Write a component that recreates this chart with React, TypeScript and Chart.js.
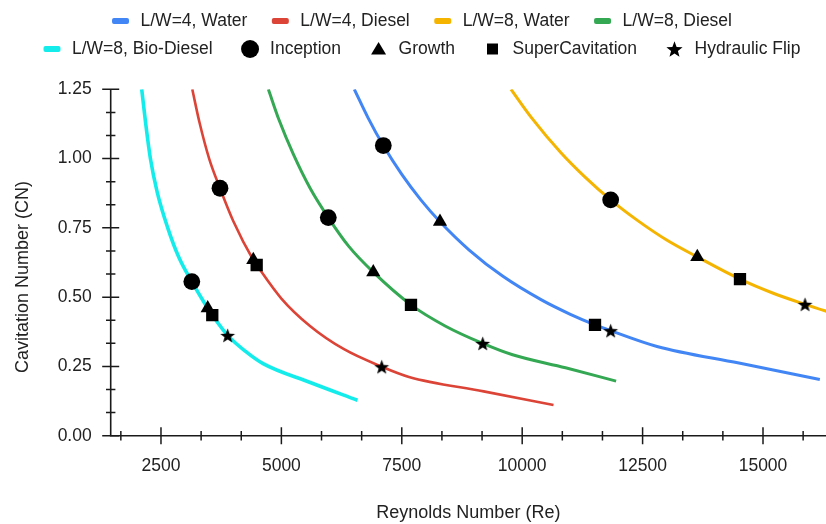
import React, { useEffect, useRef } from 'react';
import { Chart, registerables } from 'chart.js';

Chart.register(...registerables);

const FONT = '"Liberation Sans", Arial, Helvetica, sans-serif';
const TEXT_COLOR = '#222222';
const AXIS_COLOR = '#1a1a1a';

// ---------- series (Reynolds number / cavitation number) ----------
const seriesLabels = ['L/W=4, Water', 'L/W=4, Diesel', 'L/W=8, Water', 'L/W=8, Diesel', 'L/W=8, Bio-Diesel'];
const seriesColors = ['#4285F4', '#DB4437', '#F4B400', '#34A853', '#14ECEC'];
const seriesWidths = [3, 2.6, 3, 3, 3.6];

const lw4WaterRe = [6514, 6800, 7116, 7500, 7900, 8293, 8900, 9600, 10400, 11000, 11512, 11837, 12800, 14500, 16180];
const lw4WaterCN = [1.25, 1.147, 1.047, 0.943, 0.85, 0.772, 0.67, 0.575, 0.49, 0.438, 0.4, 0.379, 0.322, 0.262, 0.203];

const lw4DieselRe = [3150, 3300, 3500, 3725, 4000, 4417, 4487, 5000, 5600, 6300, 7083, 7650, 9200, 10650];
const lw4DieselCN = [1.25, 1.13, 1.0, 0.893, 0.775, 0.634, 0.616, 0.495, 0.395, 0.312, 0.249, 0.212, 0.16, 0.111];

const lw8WaterRe = [9767, 10200, 10800, 11300, 11837, 12400, 13000, 13636, 14522, 15200, 15872, 16600];
const lw8WaterCN = [1.25, 1.146, 1.022, 0.934, 0.851, 0.776, 0.706, 0.645, 0.565, 0.515, 0.474, 0.433];

const lw8DieselRe = [4730, 4950, 5250, 5600, 5974, 6400, 6908, 7691, 8400, 9180, 9800, 10900, 11950];
const lw8DieselCN = [1.25, 1.14, 1.015, 0.892, 0.787, 0.683, 0.59, 0.472, 0.396, 0.333, 0.292, 0.245, 0.197];

const lw8BioRe = [2100, 2180, 2280, 2420, 2640, 2880, 3140, 3470, 3565, 3885, 4250, 4620, 5600, 6580];
const lw8BioCN = [1.25, 1.13, 1.0, 0.88, 0.75, 0.64, 0.556, 0.46, 0.435, 0.362, 0.305, 0.26, 0.192, 0.128];

const seriesRe = [lw4WaterRe, lw4DieselRe, lw8WaterRe, lw8DieselRe, lw8BioRe];
const seriesCN = [lw4WaterCN, lw4DieselCN, lw8WaterCN, lw8DieselCN, lw8BioCN];

// ---------- regime markers ----------
const markerLabels = ['Inception', 'Growth', 'SuperCavitation', 'Hydraulic Flip'];

const inceptionRe = [7116, 3725, 11837, 5974, 3140];
const inceptionCN = [1.047, 0.893, 0.851, 0.787, 0.556];

const growthRe = [8293, 4417, 13636, 6908, 3470];
const growthCN = [0.772, 0.634, 0.645, 0.59, 0.46];

const superCavRe = [11512, 4487, 14522, 7691, 3565];
const superCavCN = [0.4, 0.616, 0.565, 0.472, 0.435];

const flipRe = [11837, 7083, 15872, 9180, 3885];
const flipCN = [0.379, 0.249, 0.474, 0.333, 0.362];

const markerRe = [inceptionRe, growthRe, superCavRe, flipRe];
const markerCN = [inceptionCN, growthCN, superCavCN, flipCN];

// ---------- axes ----------
const reMin = 1456;
const reMax = 16308;
const xTickValues = [2500, 5000, 7500, 10000, 12500, 15000];
const cnMin = 0;
const cnMax = 1.25;
const yTickValues = [0, 0.25, 0.5, 0.75, 1.0, 1.25];
const xTitle = 'Reynolds Number (Re)';
const yTitle = 'Cavitation Number (CN)';

function starPath(ctx: CanvasRenderingContext2D, cx: number, cy: number, ro: number, ri: number) {
  ctx.beginPath();
  for (let i = 0; i < 10; i++) {
    const r = i % 2 === 0 ? ro : ri;
    const a = -Math.PI / 2 + (i * Math.PI) / 5;
    const px = cx + r * Math.cos(a);
    const py = cy + r * Math.sin(a);
    if (i === 0) ctx.moveTo(px, py);
    else ctx.lineTo(px, py);
  }
  ctx.closePath();
}

function makeStarCanvas(size: number, ro: number) {
  const c = document.createElement('canvas');
  c.width = size;
  c.height = size;
  const g = c.getContext('2d')!;
  g.fillStyle = '#000';
  starPath(g, size / 2, size / 2 + 0.8, ro, ro * 0.42);
  g.fill();
  return c;
}

function drawLegendIcon(ctx: CanvasRenderingContext2D, kind: string, color: string, cx: number, cy: number) {
  ctx.fillStyle = color;
  ctx.beginPath();
  if (kind === 'line') {
    const w = 17, h = 6, r = 2;
    const x = cx - w / 2, y = cy - h / 2;
    ctx.moveTo(x + r, y);
    ctx.arcTo(x + w, y, x + w, y + h, r);
    ctx.arcTo(x + w, y + h, x, y + h, r);
    ctx.arcTo(x, y + h, x, y, r);
    ctx.arcTo(x, y, x + w, y, r);
    ctx.closePath();
  } else if (kind === 'circle') {
    ctx.arc(cx, cy, 9, 0, Math.PI * 2);
  } else if (kind === 'triangle') {
    ctx.moveTo(cx, cy - 7);
    ctx.lineTo(cx + 7.5, cy + 5.5);
    ctx.lineTo(cx - 7.5, cy + 5.5);
    ctx.closePath();
  } else if (kind === 'rect') {
    ctx.rect(cx - 5.5, cy - 5.5, 11, 11);
  } else if (kind === 'star') {
    starPath(ctx, cx, cy + 0.8, 8.5, 3.6);
  }
  ctx.fill();
}

const markerKinds = ['circle', 'triangle', 'rect', 'star'];

const overlayPlugin = {
  id: 'overlay',
  afterDraw(chart: any) {
    const ctx: CanvasRenderingContext2D = chart.ctx;
    const xs = chart.scales.x;
    const ys = chart.scales.y;
    const { left, right, top, bottom } = chart.chartArea;
    ctx.save();

    // axis lines
    ctx.strokeStyle = AXIS_COLOR;
    ctx.lineWidth = 1.6;
    ctx.beginPath();
    ctx.moveTo(left, top);
    ctx.lineTo(left, bottom);
    ctx.lineTo(right + 2, bottom);
    ctx.stroke();

    // x ticks (major + 2 minor per interval)
    const xStep = xTickValues[1] - xTickValues[0];
    const xMinor = xStep / 3;
    ctx.lineWidth = 1.5;
    ctx.beginPath();
    for (let k = Math.ceil(reMin / xMinor); k * xMinor <= reMax; k++) {
      const px = xs.getPixelForValue(k * xMinor);
      const len = k % 3 === 0 ? 8.5 : 4.7;
      ctx.moveTo(px, bottom - len);
      ctx.lineTo(px, bottom + len);
    }
    // y ticks
    const yStep = yTickValues[1] - yTickValues[0];
    const yMinor = yStep / 3;
    for (let k = 0; k * yMinor <= cnMax + 1e-9; k++) {
      const py = ys.getPixelForValue(k * yMinor);
      const len = k % 3 === 0 ? 8.5 : 4.7;
      ctx.moveTo(left - len, py);
      ctx.lineTo(left + len, py);
    }
    ctx.stroke();

    // y title
    ctx.fillStyle = TEXT_COLOR;
    ctx.font = `18px ${FONT}`;
    ctx.textAlign = 'center';
    ctx.textBaseline = 'middle';
    ctx.translate(23, 277);
    ctx.rotate(-Math.PI / 2);
    ctx.fillText(yTitle, 0, 0);
    ctx.restore();

    // legend
    ctx.save();
    ctx.font = `17.5px ${FONT}`;
    ctx.textAlign = 'left';
    ctx.textBaseline = 'middle';
    const items = [
      ...seriesLabels.map((t, i) => ({ text: t, kind: 'line', color: seriesColors[i] })),
      ...markerLabels.map((t, i) => ({ text: t, kind: markerKinds[i], color: '#000' })),
    ];
    const rows = [
      { items: items.slice(0, 4), y: 21, gap: 33 },
      { items: items.slice(4), y: 49, gap: 37.5 },
    ];
    const centerX = 422;
    rows.forEach((row) => {
      const widths = row.items.map((it) => ctx.measureText(it.text).width);
      let total = 8.5;
      widths.forEach((w, i) => {
        total += 20 + w;
        if (i < widths.length - 1) total += row.gap;
      });
      let c = centerX - total / 2 + 8.5;
      row.items.forEach((it, i) => {
        drawLegendIcon(ctx, it.kind, it.color, c, row.y);
        ctx.fillStyle = TEXT_COLOR;
        ctx.fillText(it.text, c + 20, row.y);
        c += 20 + widths[i] + row.gap;
      });
    });
    ctx.restore();
  },
};

export default function App() {
  const canvasRef = useRef<HTMLCanvasElement | null>(null);

  useEffect(() => {
    if (!canvasRef.current) return;
    const star = makeStarCanvas(17, 7.8);

    const lineSets = seriesLabels.map((label, i) => ({
      type: 'line' as const,
      label,
      data: seriesRe[i].map((x, j) => ({ x, y: seriesCN[i][j] })),
      borderColor: seriesColors[i],
      backgroundColor: seriesColors[i],
      borderWidth: seriesWidths[i],
      pointRadius: 0,
      fill: false,
      cubicInterpolationMode: 'monotone' as const,
      order: 2,
    }));

    const styles: any[] = ['circle', 'triangle', 'rect', star];
    const radii = [8.4, 8.2, 8.7, 8];
    const markerSets = markerLabels.map((label, i) => ({
      type: 'line' as const,
      label,
      data: markerRe[i].map((x, j) => ({ x, y: markerCN[i][j] })),
      showLine: false,
      pointStyle: styles[i],
      pointRadius: radii[i],
      pointBackgroundColor: '#000',
      pointBorderColor: '#000',
      pointBorderWidth: 0,
      order: 0,
    }));

    const chart = new Chart(canvasRef.current, {
      type: 'line',
      data: { datasets: [...markerSets, ...lineSets] as any },
      options: {
        animation: false,
        responsive: true,
        maintainAspectRatio: false,
        events: [],
        layout: { autoPadding: false, padding: { top: 89.3, left: 0, right: 0, bottom: 0 } },
        plugins: {
          legend: { display: false },
          tooltip: { enabled: false },
        },
        scales: {
          x: {
            type: 'linear',
            position: 'bottom',
            min: reMin,
            max: reMax,
            grid: { display: false, drawTicks: false },
            border: { display: false },
            afterBuildTicks: (s: any) => {
              s.ticks = xTickValues.map((value) => ({ value }));
            },
            ticks: {
              autoSkip: false,
              maxRotation: 0,
              padding: 20,
              color: TEXT_COLOR,
              font: { family: FONT, size: 17.5 },
              callback: (v: any) => String(v),
            },
            title: {
              display: true,
              text: xTitle,
              color: TEXT_COLOR,
              font: { family: FONT, size: 18 },
              padding: { top: 0, bottom: 0 },
            },
            afterFit: (s: any) => {
              s.height = 88.3;
              s.paddingLeft = 0;
              s.paddingRight = 0;
            },
          },
          y: {
            type: 'linear',
            min: cnMin,
            max: cnMax,
            grid: { display: false, drawTicks: false },
            border: { display: false },
            afterBuildTicks: (s: any) => {
              s.ticks = yTickValues.map((value) => ({ value }));
            },
            ticks: {
              padding: 19,
              color: TEXT_COLOR,
              font: { family: FONT, size: 17.5 },
              callback: (v: any) => Number(v).toFixed(2),
            },
            afterFit: (s: any) => {
              s.width = 110.7;
              s.paddingTop = 0;
              s.paddingBottom = 0;
            },
          },
        },
      },
      plugins: [overlayPlugin],
    });
    return () => chart.destroy();
  }, []);

  return (
    <div style={{ position: 'fixed', left: 0, top: 0, width: 826, height: 524, background: '#fff' }}>
      <canvas ref={canvasRef} />
    </div>
  );
}
